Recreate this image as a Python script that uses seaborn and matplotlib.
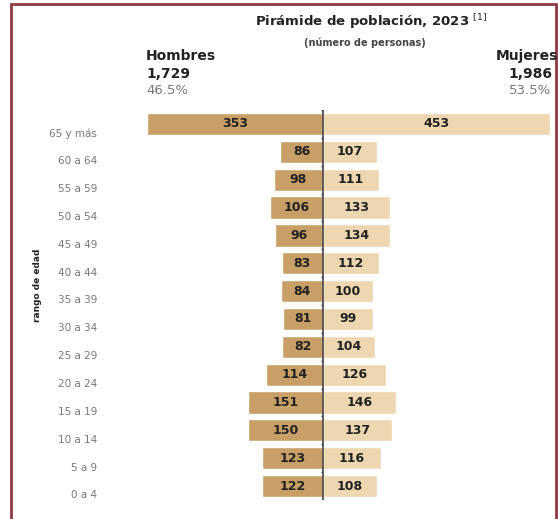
import matplotlib
matplotlib.use("Agg")
import matplotlib.pyplot as plt
import matplotlib.transforms as mtransforms
from matplotlib.patches import Rectangle
import numpy as np
import pandas as pd
import seaborn as sns

# datos de la pirámide
edades = ["65 y más", "60 a 64", "55 a 59", "50 a 54", "45 a 49", "40 a 44", "35 a 39",
          "30 a 34", "25 a 29", "20 a 24", "15 a 19", "10 a 14", "5 a 9", "0 a 4"]
hombres = [353, 86, 98, 106, 96, 83, 84, 81, 82, 114, 151, 150, 123, 122]
mujeres = [453, 107, 111, 133, 134, 112, 100, 99, 104, 126, 146, 137, 116, 108]
total_h, total_m = "1,729", "1,986"
pct_h, pct_m = "46.5%", "53.5%"

col_h = "#C8A067"
col_m = "#EDD7B0"

sns.set_style("white")
plt.rcParams["font.family"] = ["DejaVu Sans"]

df = pd.DataFrame({"edad": edades, "hombres": hombres, "mujeres": mujeres})
df["hombres_neg"] = -df["hombres"]

W, H = 558, 519
fig = plt.figure(figsize=(W / 100, H / 100), dpi=100)
ax = fig.add_axes([140 / W, 1 - 500 / H, 416 / W, 390 / H])

sns.barplot(data=df, x="hombres_neg", y="edad", orient="h", color=col_h,
            width=0.8, saturation=1, ax=ax)
sns.barplot(data=df, x="mujeres", y="edad", orient="h", color=col_m,
            width=0.8, saturation=1, ax=ax)

ax.set_xlim(-366, 466)
ax.set_ylim(13.5, -0.5)

# etiquetas de valores
ax.bar_label(ax.containers[0], labels=[str(v) for v in hombres], label_type="center",
             fontsize=9, fontweight="bold", color="#222222")
ax.bar_label(ax.containers[1], labels=[str(v) for v in mujeres], label_type="center",
             fontsize=9, fontweight="bold", color="#222222")

# eje central
ax.axvline(0, color="#444444", lw=1.2, ymin=0.0, ymax=1.0)
ax.hlines(np.arange(-0.5, len(edades)), -5, 0, color="#444444", lw=1)

for s in ax.spines.values():
    s.set_visible(False)
ax.set_xticks([])
ax.set_xlabel("")
ax.set_ylabel("")
ax.tick_params(axis="y", length=0, pad=31, labelsize=7.5, labelcolor="#777777")
off = mtransforms.ScaledTranslation(0, -6 / 72, fig.dpi_scale_trans)
for lab in ax.get_yticklabels():
    lab.set_transform(lab.get_transform() + off)

fig.text(38 / W, 1 - 285 / H, "rango de edad", rotation=90, ha="center", va="center",
         fontsize=6.5, fontweight="bold", color="#222222")

# títulos
fig.text(371 / W, 1 - 22 / H, "Pirámide de población, 2023 $^{[1]}$", ha="center",
         va="center", fontsize=9.5, fontweight="bold", color="#222222")
fig.text(365 / W, 1 - 43 / H, "(número de personas)", ha="center", va="center",
         fontsize=7, fontweight="bold", color="#444444")

fig.text(146 / W, 1 - 56 / H, "Hombres", ha="left", va="center", fontsize=10,
         fontweight="bold", color="#222222")
fig.text(146 / W, 1 - 74 / H, total_h, ha="left", va="center", fontsize=10,
         fontweight="bold", color="#222222")
fig.text(146 / W, 1 - 90 / H, pct_h, ha="left", va="center", fontsize=9.5,
         color="#777777")

fig.text(558 / W, 1 - 56 / H, "Mujeres", ha="right", va="center", fontsize=10,
         fontweight="bold", color="#222222")
fig.text(530 / W, 1 - 74 / H, total_m, ha="center", va="center", fontsize=10,
         fontweight="bold", color="#222222")
fig.text(530 / W, 1 - 90 / H, pct_m, ha="center", va="center", fontsize=9.5,
         color="#777777")

# marco
fig.patches.append(Rectangle((11 / W, -0.02), (556 - 11) / W, 1.02 - 4 / H,
                             transform=fig.transFigure, fill=False,
                             edgecolor="#8E3A45", lw=2))

fig.savefig("out.png", dpi=100)
